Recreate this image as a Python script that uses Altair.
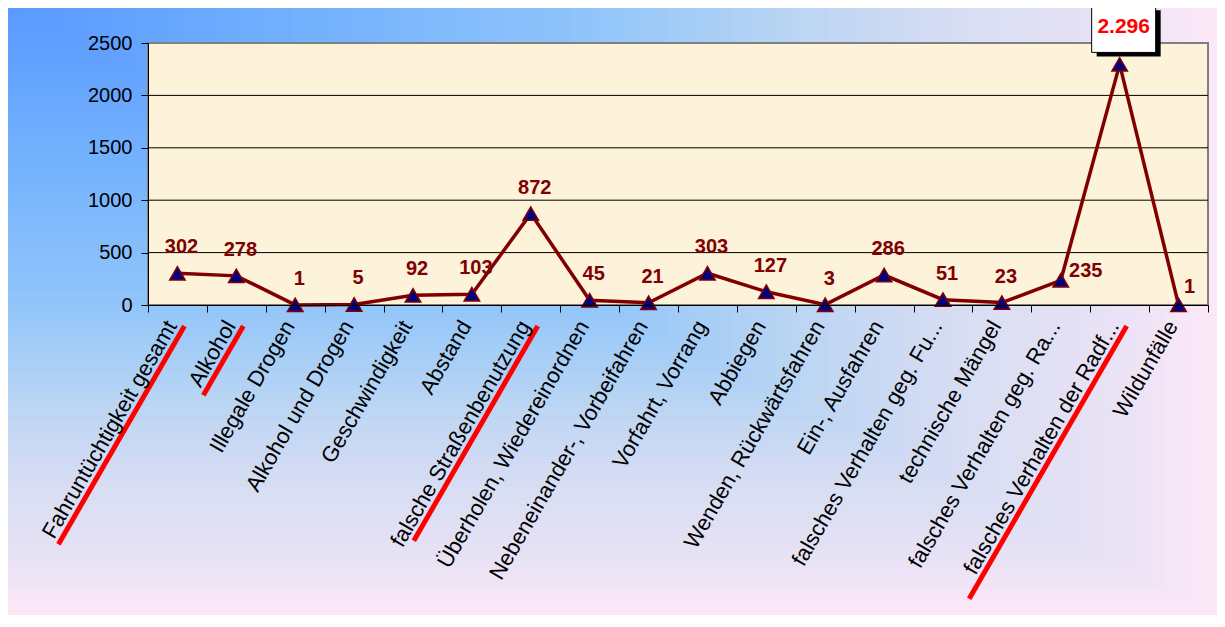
import altair as alt
import pandas as pd

categories = [
    "Fahruntüchtigkeit gesamt", "Alkohol", "Illegale Drogen", "Alkohol und Drogen",
    "Geschwindigkeit", "Abstand", "falsche Straßenbenutzung", "Überholen, Wiedereinordnen",
    "Nebeneinander-, Vorbeifahren", "Vorfahrt, Vorrang", "Abbiegen", "Wenden, Rückwärtsfahren",
    "Ein-, Ausfahren", "falsches Verhalten geg. Fu...", "technische Mängel",
    "falsches Verhalten geg. Ra...", "falsches Verhalten der Radf...", "Wildunfälle",
]
values = [302, 278, 1, 5, 92, 103, 872, 45, 21, 303, 127, 3, 286, 51, 23, 235, 2296, 1]
y_ticks = [0, 500, 1000, 1500, 2000, 2500]
grid_values = [500, 1000, 1500, 2000]
underlined = ["Fahruntüchtigkeit gesamt", "Alkohol", "falsche Straßenbenutzung",
              "falsches Verhalten der Radf..."]

labels = [f"{v:,}".replace(",", ".") for v in values]
df = pd.DataFrame({"cat": categories, "value": values, "label": labels,
                   "i": list(range(len(values)))})
peak_i = int(df["value"].idxmax())

W, H = 1060, 262
PL, PT, PR, PB = 140, 35, 9, 310
FONT = "Liberation Sans"
DARK = "#800000"

# ---- background "from corner" gradient, drawn as nested bands ----
n_bands = 90
bands = pd.DataFrame({"t": [1 - k / n_bands for k in range(n_bands)]})
bands["z"] = 0.0
stop_t = [0, 0.5, 0.65, 0.8, 0.92, 1.0]
stop_c = ["#5a99ff", "#93c6fa", "#b8d5f3", "#d8def3", "#e9e2f5", "#fce7f7"]
bg = alt.Chart(bands).mark_rect(strokeWidth=0).encode(
    x=alt.X("z:Q", scale=alt.Scale(domain=[0, 1], range=[-PL, W + PR]), axis=None),
    x2="t:Q",
    y=alt.Y("z:Q", scale=alt.Scale(domain=[0, 1], range=[-PT, H + PB]), axis=None),
    y2="t:Q",
    color=alt.Color("t:Q", scale=alt.Scale(domain=stop_t, range=stop_c), legend=None),
)

xs = alt.Scale(type="band", paddingInner=0, paddingOuter=0)
X = alt.X("cat:N", sort=categories, scale=xs,
          axis=alt.Axis(title=None, labelAngle=-60, labelAlign="right", labelBaseline="bottom",
                        labelFont=FONT, labelFontSize=22, labelColor="black",
                        labelPadding=16, labelOffset=4, tickSize=7, tickColor="black",
                        domainColor="black", tickBand="extent", grid=False, zindex=1,
                        labelLimit=500, labelOverlap=False))
Y = alt.Y("value:Q", scale=alt.Scale(domain=[0, 2500], nice=False),
          axis=alt.Axis(title=None, values=y_ticks, format="d", labelFont=FONT,
                        labelFontSize=20, labelColor="black", tickSize=7, tickColor="black",
                        domainColor="black", labelPadding=9, grid=False, zindex=1))

one = pd.DataFrame({"a": [0]})
plot_bg = alt.Chart(one).mark_rect(fill="#fdf2da", stroke="#808080", strokeWidth=2).encode(
    x=alt.value(0), x2=alt.value(W), y=alt.value(0), y2=alt.value(H))

grid = alt.Chart(pd.DataFrame({"v": grid_values})).mark_rule(color="black", strokeWidth=1).encode(
    y=alt.Y("v:Q", scale=alt.Scale(domain=[0, 2500], nice=False)))

base = alt.Chart(df)
Xs = alt.X("cat:N", sort=categories)
line = base.mark_line(color=DARK, strokeWidth=3.5).encode(x=X, y=Y)
pts = base.mark_point(shape="triangle-up", filled=True, fill="#000080", stroke=DARK,
                      strokeWidth=1.5, size=240, opacity=1).encode(x=Xs, y="value:Q")

lab_style = dict(font=FONT, fontSize=20, fontWeight="bold", color=DARK, baseline="middle")
txt = base.transform_filter(
    (alt.datum.i != peak_i) & (alt.datum.i != 15) & (alt.datum.i != 17)
).mark_text(dx=4, dy=-26, **lab_style).encode(x=Xs, y="value:Q", text="label:N")
txt15 = base.transform_filter(alt.datum.i == 15).mark_text(dx=25, dy=-9, **lab_style).encode(
    x=Xs, y="value:Q", text="label:N")
txt17 = base.transform_filter(alt.datum.i == 17).mark_text(dx=11, dy=-18, **lab_style).encode(
    x=Xs, y="value:Q", text="label:N")

box_path = "M-1,-0.72H1V0.72H-1Z"
peak = base.transform_filter(alt.datum.i == peak_i)
shadow = peak.mark_point(shape=box_path, size=4096, filled=True, fill="black", opacity=1,
                         xOffset=9, yOffset=-31).encode(x=Xs, y="value:Q")
box = peak.mark_point(shape=box_path, size=4096, filled=True, fill="white", stroke="black",
                      strokeWidth=1, opacity=1, xOffset=4, yOffset=-35).encode(x=Xs, y="value:Q")
box_txt = peak.mark_text(font=FONT, fontSize=21, fontWeight="bold", color="#ff0000",
                         dx=4, dy=-37, baseline="middle").encode(x=Xs, y="value:Q", text="label:N")

ul_len = {"Fahruntüchtigkeit gesamt": 252, "Alkohol": 80, "falsche Straßenbenutzung": 248,
          "falsches Verhalten der Radf...": 315}
ul_layers = []
y0 = 283
for c in underlined:
    L = ul_len[c]
    ul_layers.append(
        base.transform_filter(alt.datum.cat == c).mark_rule(
            color="#ff0000", strokeWidth=5, xOffset=7, x2Offset=7 - L / 2
        ).encode(x=Xs, x2="cat:N", y=alt.value(y0), y2=alt.value(y0 + 0.866 * L))
    )

main = alt.layer(plot_bg, grid, line, pts, txt, txt15, txt17, shadow, box, box_txt, *ul_layers)

chart = alt.layer(bg, main).resolve_scale(
    x="independent", y="independent", color="independent"
).properties(
    width=W, height=H,
    autosize=alt.AutoSizeParams(type="none"),
    padding={"left": PL, "top": PT, "right": PR, "bottom": PB},
).configure_view(strokeWidth=0).configure(background="white")

chart.save("out.html", embed_options={"renderer": "svg", "actions": False})
